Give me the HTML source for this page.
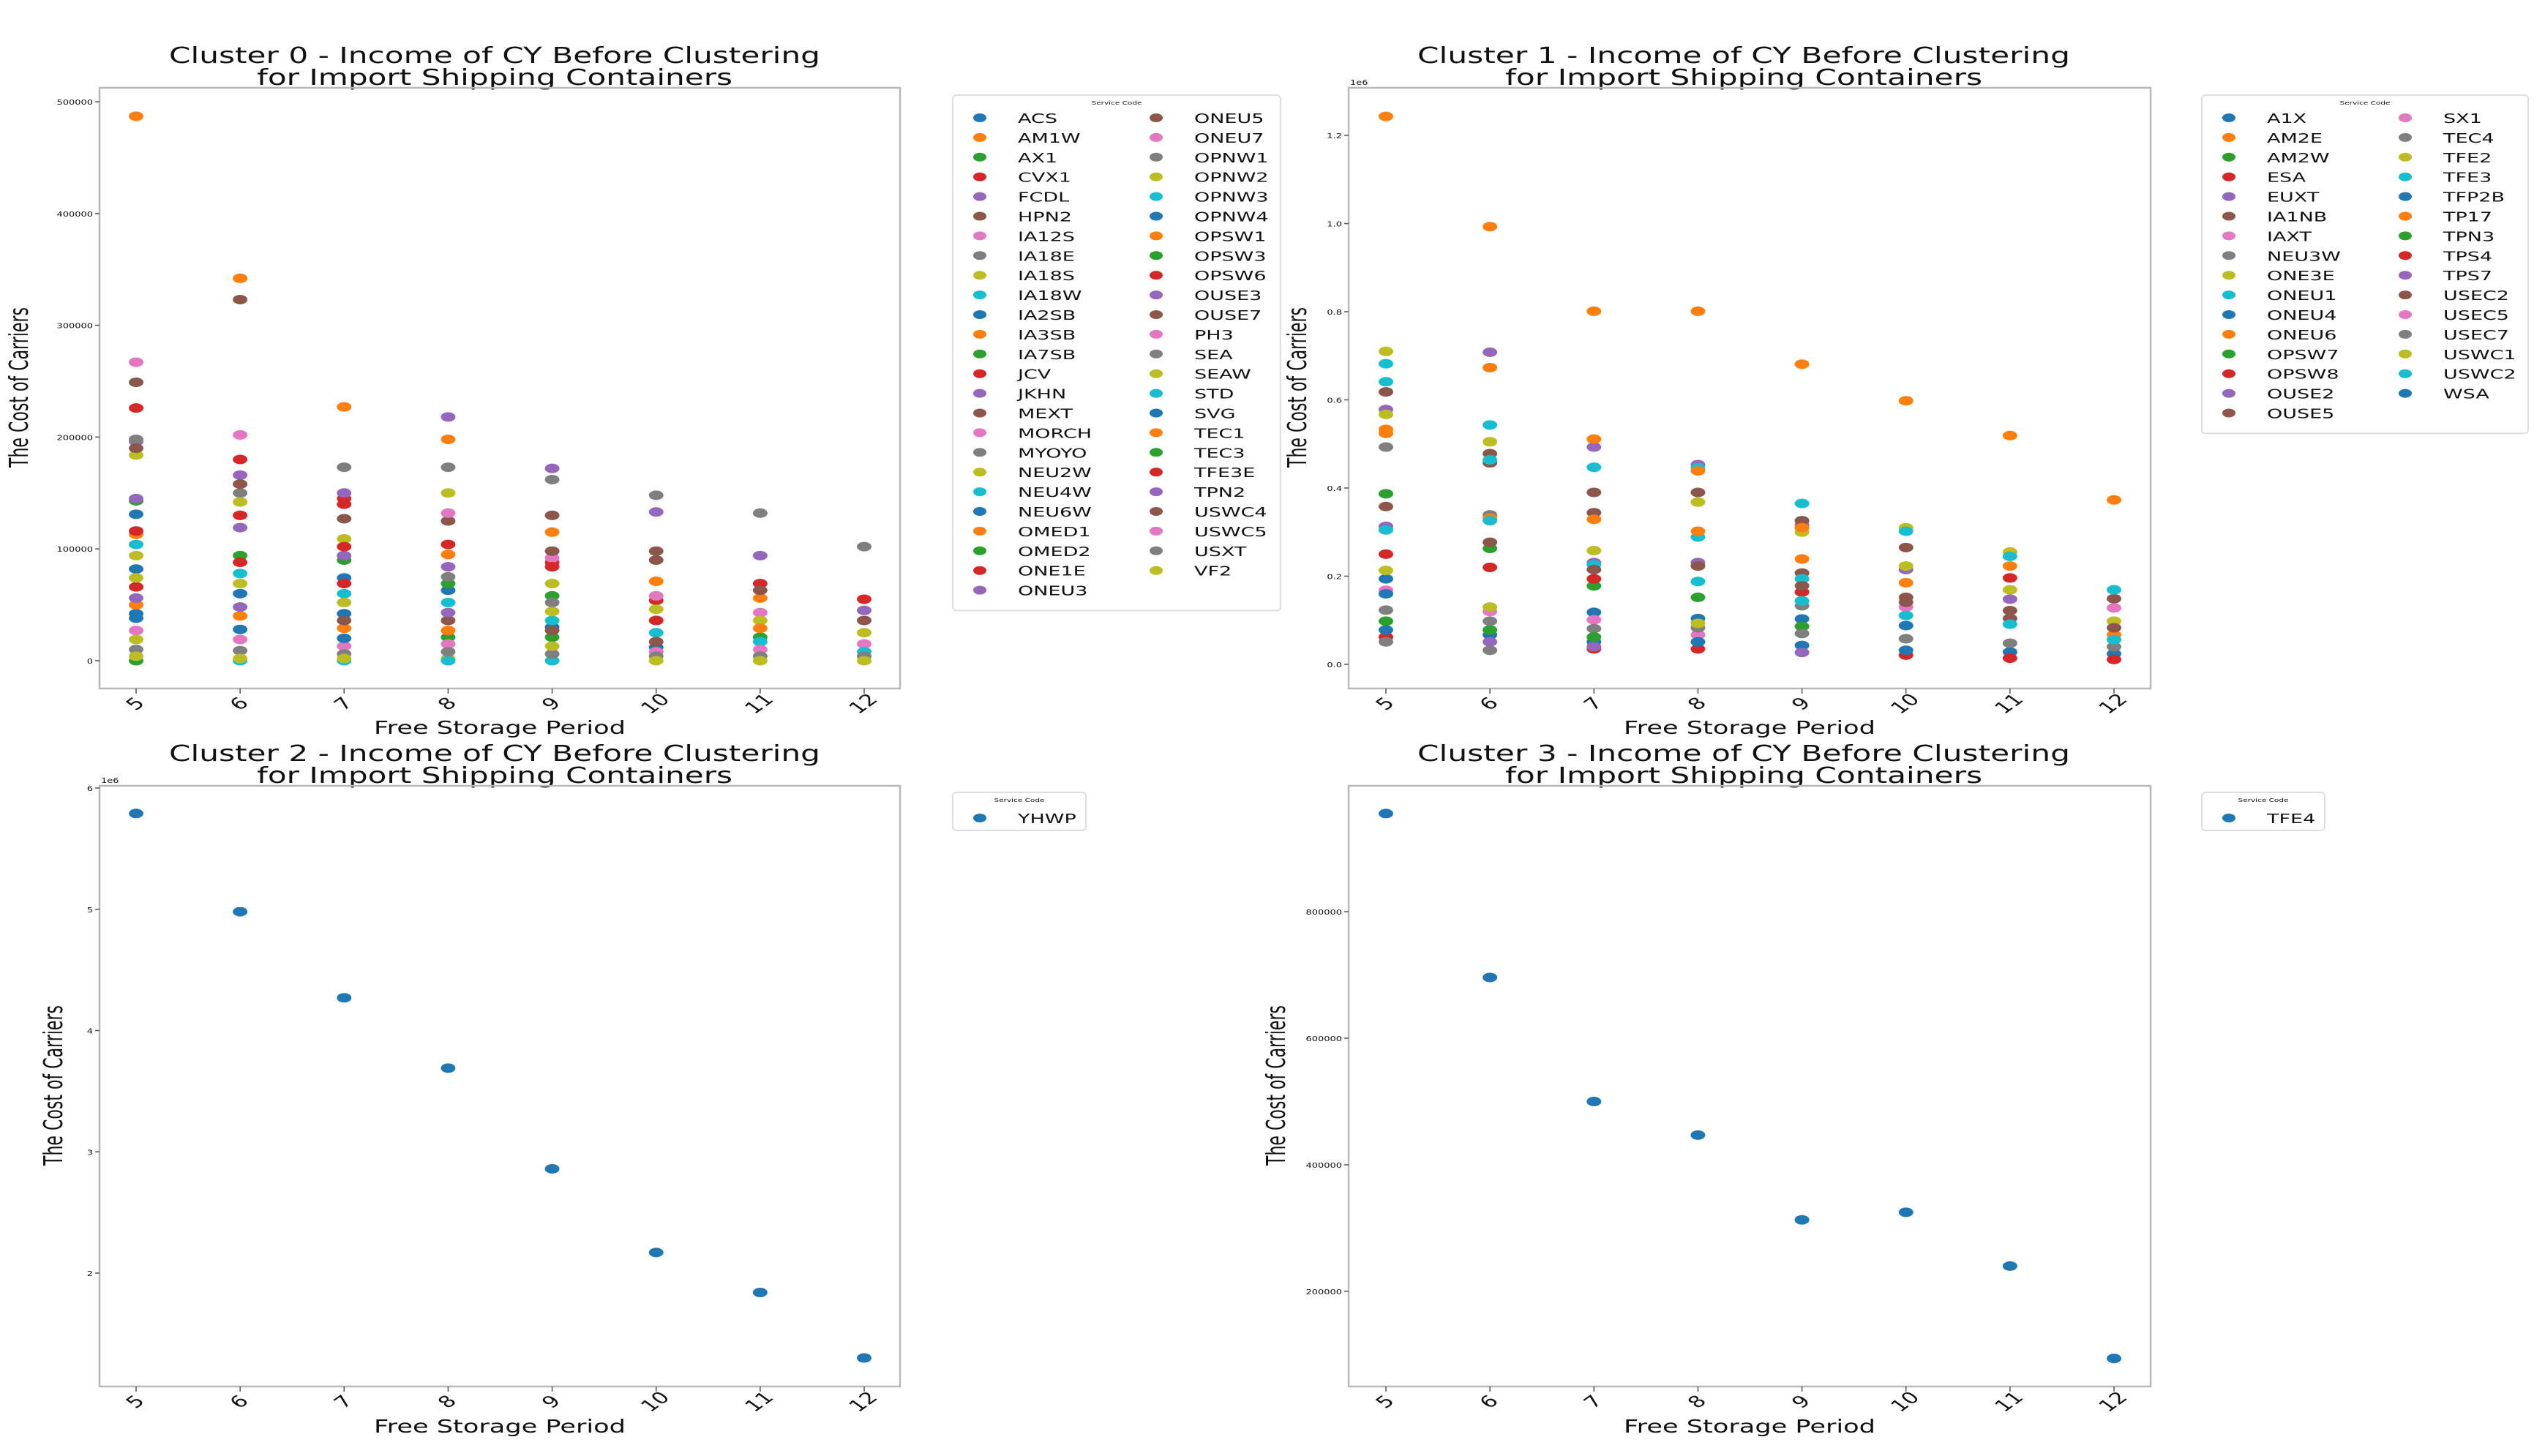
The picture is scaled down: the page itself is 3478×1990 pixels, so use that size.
<!DOCTYPE html>
<html><head><meta charset="utf-8"><style>
html,body{margin:0;padding:0;background:#fff;}
svg{display:block;font-family:"DejaVu Sans","Liberation Sans",sans-serif;}
</style></head><body>
<svg id="fig" width="3478" height="1990" viewBox="0 0 3478 1990" xmlns="http://www.w3.org/2000/svg"></svg>
<script>
const X_CATS = [5,6,7,8,9,10,11,12];
const COLORS = ['#1f77b4','#ff7f0e','#2ca02c','#d62728','#9467bd','#8c564b','#e377c2','#7f7f7f','#bcbd22','#17becf'];
const n = null;

// Cluster 0 (values in thousands)
const c0Names = ['ACS','AM1W','AX1','CVX1','FCDL','HPN2','IA12S','IA18E','IA18S','IA18W','IA2SB','IA3SB','IA7SB','JCV','JKHN','MEXT','MORCH','MYOYO','NEU2W','NEU4W','NEU6W','OMED1','OMED2','ONE1E','ONEU3','ONEU5','ONEU7','OPNW1','OPNW2','OPNW3','OPNW4','OPSW1','OPSW3','OPSW6','OUSE3','OUSE7','PH3','SEA','SEAW','STD','SVG','TEC1','TEC3','TFE3E','TPN2','USWC4','USWC5','USXT','VF2'];
const c0Values = [
[131,60,74,63,30,12,n,n],[487,342,227,198,115,71,56,n],[143,94,90,69,58,8,21,n],[226,180,145,104,88,54,69,55],[196,166,150,218,172,133,94,45],
[249,323,127,125,130,98,63,36],[267,202,13,132,92,58,43,15],[198,150,173,173,162,148,132,102],[184,142,109,150,69,46,36,25],[104,78,60,52,36,25,17,8],
[82,28,42,n,n,n,n,n],[113,40,29,95,n,n,29,n],[0,n,n,21,21,n,n,n],[116,130,140,n,84,36,n,n],[145,119,94,84,n,n,n,n],
[190,158,36,36,98,90,n,n],[27,19,n,15,n,8,10,n],[10,9,6,75,52,4,4,4],[94,69,52,2,44,0,0,0],[n,0,0,0,0,n,n,n],
[42,n,20,n,n,n,n,n],[50,n,n,27,n,n,n,n],[n,n,n,n,n,n,n,n],[66,88,102,n,n,n,n,n],[56,48,n,43,n,n,n,n],
[n,n,n,n,27,17,n,n],[n,n,n,n,n,n,n,n],[n,n,n,8,6,n,n,n],[74,2,2,n,13,n,n,n],[n,n,n,n,n,n,n,n],
[38,n,n,n,n,n,n,n],[n,n,n,n,n,n,n,n],[n,n,n,n,n,n,n,n],[n,n,69,n,n,n,n,n],[n,n,n,n,n,n,n,n],
[n,n,n,n,n,n,n,n],[n,n,n,n,n,n,n,n],[n,n,n,n,n,n,n,n],[19,n,n,n,n,n,n,n],[n,n,n,n,n,n,n,n],
[n,n,n,n,n,n,n,n],[n,n,n,n,n,n,n,n],[n,n,n,n,n,n,n,n],[n,n,n,n,n,n,n,n],[n,n,n,n,n,n,n,n],
[n,n,n,n,n,n,n,n],[n,n,n,n,n,n,n,n],[n,n,n,n,n,n,n,n],[4,n,n,n,n,n,n,n]];
const c0Ticks = [0,100,200,300,400,500];
const c0TickLabels = ['0','100000','200000','300000','400000','500000'];

// Cluster 1 (values in 1e6)
const c1Names = ['A1X','AM2E','AM2W','ESA','EUXT','IA1NB','IAXT','NEU3W','ONE3E','ONEU1','ONEU4','ONEU6','OPSW7','OPSW8','OUSE2','OUSE5','SX1','TEC4','TFE2','TFE3','TFP2B','TP17','TPN3','TPS4','TPS7','USEC2','USEC5','USEC7','USWC1','USWC2','WSA'];
const c1Values = [
[.194,.067,.118,.104,.103,.088,.028,.024],[1.243,.993,.801,.801,.681,.598,.519,.373],[.387,.263,.178,.152,.086,n,n,n],[.250,.220,.194,.035,.164,.021,.196,.011],[.578,.708,.493,.453,.316,.215,.148,n],
[.618,.478,.390,.390,.326,.265,.122,.149],[.168,.120,.101,.067,n,.130,n,.128],[.493,.339,.081,.083,.133,.058,.048,.040],[.710,.505,.258,.368,.300,.310,.255,.098],[.682,.543,.447,.446,.365,.302,.245,.169],
[.160,n,.051,.051,.043,.032,n,n],[.533,.673,.511,.439,.310,.185,.223,.067],[.098,.078,.062,n,n,n,n,n],[.062,n,.035,n,n,n,.014,n],[.313,.051,.231,.231,.027,n,n,n],
[.358,.457,.344,.223,.207,.152,.104,.083],[n,n,n,n,n,n,n,n],[.123,.098,n,n,.070,n,n,n],[.567,.130,n,.093,n,.223,.169,n],[.641,.464,.226,.289,.194,.111,.091,.056],
[.078,n,n,n,n,n,n,n],[.524,.332,.329,.302,.239,n,n,n],[n,n,n,n,n,n,n,n],[n,n,n,n,n,n,n,n],[n,n,.040,n,n,n,n,n],
[n,.277,.215,n,.178,.141,n,n],[n,n,n,n,n,n,n,n],[.051,.032,n,n,n,n,n,n],[.213,n,n,n,n,n,n,n],[.305,.326,n,.188,.144,n,n,n],
[n,n,n,n,n,n,n,n]];
const c1Ticks = [0,0.2,0.4,0.6,0.8,1.0,1.2];
const c1TickLabels = ['0.0','0.2','0.4','0.6','0.8','1.0','1.2'];

// Cluster 2 (1e6)
const c2Names = ['YHWP'];
const c2Values = [[5.79,4.98,4.27,3.69,2.86,2.17,1.84,1.30]];
const c2Ticks = [2,3,4,5,6];
const c2TickLabels = ['2','3','4','5','6'];

// Cluster 3
const c3Names = ['TFE4'];
const c3Values = [[955000,696000,500000,447000,313000,325000,240000,94000]];
const c3Ticks = [200000,400000,600000,800000];
const c3TickLabels = ['200000','400000','600000','800000'];

const NS = 'http://www.w3.org/2000/svg';
const svg = document.getElementById('fig');
function el(tag, attrs, parent){ const e=document.createElementNS(NS,tag); for(const k in attrs) e.setAttribute(k,attrs[k]); (parent||svg).appendChild(e); return e; }
function txt(parent, s, x, y, fs, sx, anchor, rot){
  const t = el('text',{transform:`translate(${x},${y}) scale(${sx},1) rotate(${rot||0})`,'font-size':fs,'text-anchor':anchor||'start',fill:'#111'},parent);
  t.textContent = s; return t;
}

function panel(p){
  const g = el('g',{});
  
  
  const yScale = v => p.yPix0 + (v - p.yTicks[0]) * (p.yPix1 - p.yPix0) / (p.yTicks[p.yTicks.length-1] - p.yTicks[0]);
  const xScale = c => p.xPix0 + (c - X_CATS[0]) * (p.xPix1 - p.xPix0) / (X_CATS[X_CATS.length-1] - X_CATS[0]);
  const t1 = el('text',{x:p.tcx,y:p.ty,'font-size':30,'text-anchor':'middle',textLength:p.tw1,lengthAdjust:'spacingAndGlyphs',fill:'#111'},g);
  t1.textContent = p.title1;
  
  
  const t2 = el('text',{x:p.tcx,y:p.ty+30,'font-size':30,'text-anchor':'middle',textLength:p.tw2,lengthAdjust:'spacingAndGlyphs',fill:'#111'},g);
  t2.textContent = 'for Import Shipping Containers';
  
  
  const fr = el('rect',{x:p.L,y:p.T,width:p.R-p.L,height:p.B-p.T,fill:'none',stroke:'#b8b8b8','stroke-width':2.5},g);
  
  
  p.yTicks.forEach((v,i)=>{
    const y = yScale(v);
    el('line',{x1:p.L-6,x2:p.L,y1:y,y2:y,stroke:'#555','stroke-width':1.5},g);
    const lb = txt(g, p.yLabels[i], p.L-9, y+4, 10, 1.3, 'end');
    
    
  });
  if(p.offset){ const o = txt(g, p.offset, p.L+2, p.T-4, 10, 1.3, 'start');   }
  X_CATS.forEach(c=>{
    const x = xScale(c);
    el('line',{x1:x,x2:x,y1:p.B,y2:p.B+7,stroke:'#555','stroke-width':1.5},g);
    const lb = txt(g, String(c), x+6, p.B+26, 22, 1.4, 'middle', -45);
    
    
  });
  const xt = el('text',{x:(p.L+p.R)/2,y:p.xty,'font-size':25,'text-anchor':'middle',textLength:344,lengthAdjust:'spacingAndGlyphs',fill:'#111'},g);
  xt.textContent = 'Free Storage Period';
  
  
  const ytg = el('g',{transform:`translate(${p.ytx},${(p.T+p.B)/2+p.ytdy}) scale(1.6,1) rotate(-90)`},g);
  const yt = el('text',{x:0,y:0,'font-size':22,'text-anchor':'middle',textLength:219,lengthAdjust:'spacingAndGlyphs',fill:'#111'},ytg);
  yt.textContent = 'The Cost of Carriers';
  
  
  p.names.forEach((nm,si)=>{
    const sg = el('g',{fill:COLORS[si%10]},g);
    
    
    p.values[si].forEach((v,ci)=>{
      if(v===null) return;
      const pt = el('ellipse',{cx:xScale(X_CATS[ci]),cy:yScale(v),rx:10,ry:6.5},sg);
      
      
    });
  });
  const cnt = p.names.length, rows = Math.ceil(cnt/2);
  const lg = el('g',{},g);
  
  
  const lw = cnt>1 ? p.legW : p.legW1;
  const lh = cnt>1 ? (rows*26.9+32) : 52;
  el('rect',{x:p.legX,y:p.legY,width:lw,height:lh,rx:5,fill:'#fff',stroke:'#dedede','stroke-width':2},lg);
  const lt = txt(lg,'Service Code',p.legX+lw/2,p.legY+13,7,1.5,'middle');
  
  
  p.names.forEach((nm,i)=>{
    const col = cnt>1 ? Math.floor(i/rows) : 0, row = cnt>1 ? i%rows : 0;
    const mx = p.legX + 37 + col*p.legColW, my = p.legY + 31 + row*26.9 + (cnt>1?0:4);
    const e = el('g',{},lg);
    
    
    el('ellipse',{cx:mx,cy:my,rx:9,ry:6,fill:COLORS[i%10]},e);
    txt(e, nm, mx+52, my+7, 18, 1.5, 'start');
  });
}

panel({id:'cluster-0-chart',title1:'Cluster 0 - Income of CY Before Clustering',tcx:676,ty:86,tw1:890,tw2:650,
  L:136,R:1230,T:120,B:941,xPix0:186,xPix1:1181,yPix0:903,yPix1:139,yTicks:c0Ticks,yLabels:c0TickLabels,
  names:c0Names,values:c0Values,xty:1003,ytx:38,ytdy:-1,legX:1302,legY:130,legW:448,legW1:180,legColW:241});
panel({id:'cluster-1-chart',title1:'Cluster 1 - Income of CY Before Clustering',tcx:2383,ty:86,tw1:892,tw2:652,offset:'1e6',
  L:1843,R:2939,T:120,B:941,xPix0:1894,xPix1:2889,yPix0:908,yPix1:185,yTicks:c1Ticks,yLabels:c1TickLabels,
  names:c1Names,values:c1Values,xty:1003,ytx:1785,ytdy:-1,legX:3009,legY:130,legW:446,legW1:180,legColW:241});
panel({id:'cluster-2-chart',title1:'Cluster 2 - Income of CY Before Clustering',tcx:676,ty:1040,tw1:890,tw2:650,offset:'1e6',
  L:136,R:1230,T:1074,B:1895,xPix0:186,xPix1:1181,yPix0:1740,yPix1:1077,yTicks:c2Ticks,yLabels:c2TickLabels,
  names:c2Names,values:c2Values,xty:1958,ytx:85,ytdy:-1,legX:1302,legY:1083,legW:448,legW1:182,legColW:241});
panel({id:'cluster-3-chart',title1:'Cluster 3 - Income of CY Before Clustering',tcx:2383,ty:1040,tw1:892,tw2:652,
  L:1843,R:2939,T:1074,B:1895,xPix0:1894,xPix1:2889,yPix0:1765,yPix1:1246,yTicks:c3Ticks,yLabels:c3TickLabels,
  names:c3Names,values:c3Values,xty:1958,ytx:1756,ytdy:-1,legX:3009,legY:1083,legW:446,legW1:168,legColW:241});
</script>
</body></html>
